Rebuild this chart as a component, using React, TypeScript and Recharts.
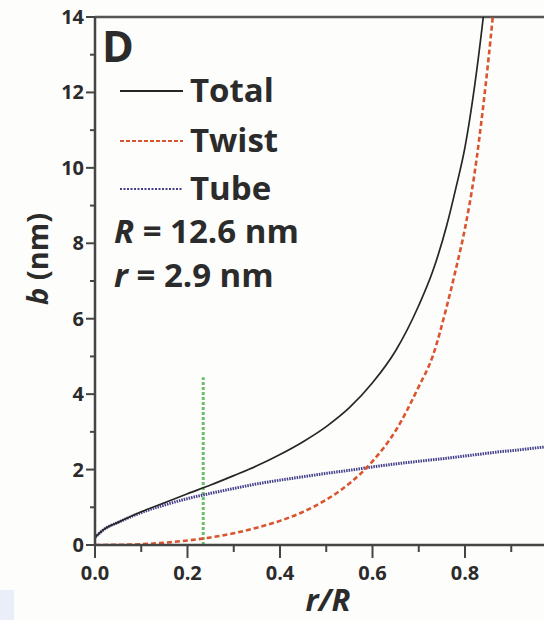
import React from "react";
import { LineChart, Line, XAxis, YAxis, ReferenceLine } from "recharts";

// r/R sample positions and the three b (nm) curves
const R_RATIO = [0, 0.02, 0.05, 0.1, 0.15, 0.2, 0.25, 0.3, 0.35, 0.4, 0.45, 0.5, 0.55, 0.6, 0.65, 0.7, 0.73, 0.76, 0.78, 0.8, 0.82, 0.84, 0.86, 0.88, 0.9, 0.95, 1.0];
const TOTAL = [0.2, 0.42, 0.6, 0.88, 1.12, 1.36, 1.59, 1.84, 2.1, 2.4, 2.74, 3.14, 3.64, 4.3, 5.15, 6.35, 7.25, 8.45, 9.45, 10.55, 12.1, 14.05, 16.4, null, null, null, null];
const TWIST = [0, 0.002, 0.005, 0.02, 0.06, 0.12, 0.2, 0.31, 0.46, 0.64, 0.88, 1.2, 1.63, 2.22, 3.03, 4.2, 5.0, 6.3, 7.3, 8.4, 9.8, 11.7, 14.0, 16.8, 20.5, null, null];
const TUBE = [0.2, 0.42, 0.6, 0.86, 1.06, 1.23, 1.37, 1.5, 1.62, 1.72, 1.81, 1.9, 1.98, 2.07, 2.15, 2.22, 2.26, 2.3, 2.33, 2.36, 2.39, 2.42, 2.45, 2.48, 2.5, 2.57, 2.63];

const X_TICKS = [0, 0.1, 0.2, 0.3, 0.4, 0.5, 0.6, 0.7, 0.8, 0.9, 1.0];
const Y_TICKS = [0, 1, 2, 3, 4, 5, 6, 7, 8, 9, 10, 11, 12, 13, 14];

// green dotted marker
const MARKER_X = 0.234;
const MARKER_TOP = 4.45;

const SERIES = [
  { key: "total", name: "Total", color: "#262626", width: 1.7, dash: undefined, legendDash: undefined },
  { key: "twist", name: "Twist", color: "#d9542f", width: 2.6, dash: "5 3", legendDash: "4 2" },
  { key: "tube", name: "Tube", color: "#433f8c", width: 3, dash: "1.5 1", legendDash: "2 1.5" },
];

const data = R_RATIO.map((r, i) => ({
  r,
  total: TOTAL[i],
  twist: TWIST[i],
  tube: TUBE[i],
}));

const FONT = "'Open Sans', 'DejaVu Sans', sans-serif";
const AXIS = "#454545";
const TEXT = "#2b2b2b";

const YTick = ({ x, y, payload }: any) => {
  const v = payload.value;
  const major = v % 2 === 0;
  return (
    <g>
      <line x1={x} x2={x - (major ? 9 : 5)} y1={y} y2={y} stroke={AXIS} strokeWidth={2} />
      {major && (
        <text x={x - 11} y={y + 7} textAnchor="end" fontFamily={FONT} fontWeight={700} fontSize={20} fill={TEXT}>
          {v}
        </text>
      )}
    </g>
  );
};

const XTick = ({ x, y, payload }: any) => {
  const v = payload.value;
  const major = Math.round(v * 10) % 2 === 0;
  return (
    <g>
      <line x1={x} x2={x} y1={y} y2={y + (major ? 13 : 7)} stroke={AXIS} strokeWidth={2} />
      {major && (
        <text x={x} y={y + 35} textAnchor="middle" fontFamily={FONT} fontWeight={700} fontSize={20} fill={TEXT}>
          {v.toFixed(1)}
        </text>
      )}
    </g>
  );
};

function Annotations() {
  const rows = [102, 152, 200];
  return (
    <svg width={544} height={620} style={{ position: "absolute", left: 0, top: 0, pointerEvents: "none" }}>
      <text x={102} y={62} fontFamily={FONT} fontWeight={700} fontSize={43} fill={TEXT}>
        D
      </text>
      {SERIES.map((s, i) => (
        <g key={s.key}>
          <line x1={120} x2={183} y1={rows[i] - 11} y2={rows[i] - 11} stroke={s.color} strokeWidth={2} strokeDasharray={s.legendDash} />
          <text x={190} y={rows[i]} fontFamily={FONT} fontWeight={700} fontSize={33} fill={TEXT}>
            {s.name}
          </text>
        </g>
      ))}
      <text x={114} y={243} fontFamily={FONT} fontWeight={700} fontSize={33} fill={TEXT}>
        <tspan fontStyle="italic">R</tspan> = 12.6 nm
      </text>
      <text x={114} y={287} fontFamily={FONT} fontWeight={700} fontSize={33} fill={TEXT}>
        <tspan fontStyle="italic">r</tspan> = 2.9 nm
      </text>
    </svg>
  );
}

export default function App() {
  return (
    <div style={{ position: "absolute", left: 0, top: 0, width: 544, height: 620, overflow: "hidden", background: "#fdfdfb" }}>
      <div style={{ position: "absolute", left: 0, top: 590, width: 14, height: 30, background: "#e9eef8" }} />
      <LineChart width={600} height={620} data={data} margin={{ top: 17, right: 42.5, left: 0, bottom: 0 }}>
        <XAxis
          dataKey="r"
          type="number"
          domain={[0, 1]}
          ticks={X_TICKS}
          interval={0}
          height={75}
          tickSize={0}
          tickMargin={0}
          tickLine={false}
          axisLine={{ stroke: AXIS, strokeWidth: 2.5 }}
          tick={<XTick />}
          label={{
            content: () => (
              <text x={328} y={611} textAnchor="middle" fontFamily={FONT} fontWeight={700} fontStyle="italic" fontSize={31} fill={TEXT}>
                r/R
              </text>
            ),
          }}
        />
        <YAxis
          type="number"
          domain={[0, 14]}
          allowDataOverflow
          ticks={Y_TICKS}
          interval={0}
          width={95}
          tickSize={0}
          tickMargin={0}
          tickLine={false}
          axisLine={{ stroke: AXIS, strokeWidth: 2.5 }}
          tick={<YTick />}
          label={{
            content: () => (
              <text
                x={36}
                y={259}
                transform="rotate(-90, 36, 259)"
                textAnchor="middle"
                dominantBaseline="central"
                fontFamily={FONT}
                fontWeight={700}
                fontSize={29}
                fill={TEXT}
              >
                <tspan fontStyle="italic">b</tspan> (nm)
              </text>
            ),
          }}
        />
        <ReferenceLine y={14} stroke="#555" strokeWidth={2.5} />
        <ReferenceLine
          segment={[
            { x: MARKER_X, y: 0 },
            { x: MARKER_X, y: MARKER_TOP },
          ]}
          stroke="#6cbf6a"
          strokeWidth={3}
          strokeDasharray="3 2"
        />
        {[...SERIES].reverse().map((s) => (
          <Line
            key={s.key}
            type="monotone"
            dataKey={s.key}
            name={s.name}
            stroke={s.color}
            strokeWidth={s.width}
            strokeDasharray={s.dash}
            dot={false}
            activeDot={false}
            isAnimationActive={false}
          />
        ))}
      </LineChart>
      <Annotations />
    </div>
  );
}
